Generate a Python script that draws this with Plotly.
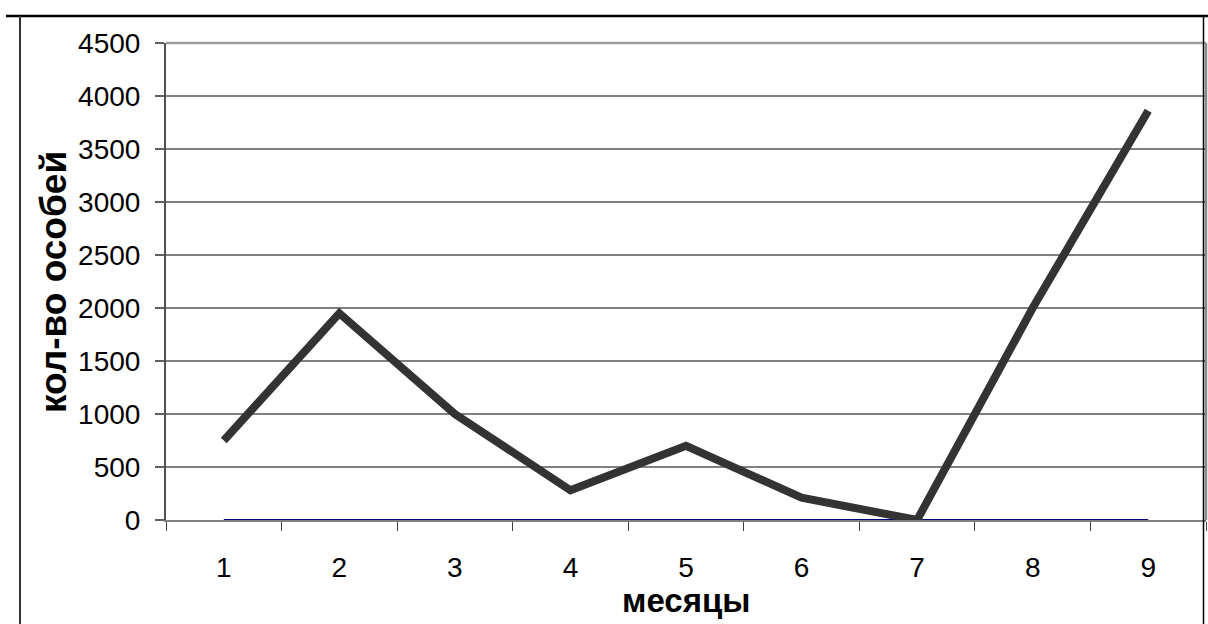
import plotly.graph_objects as go

months = [1, 2, 3, 4, 5, 6, 7, 8, 9]
individuals = [750, 1950, 1000, 280, 700, 210, 0, 2000, 3860]
baseline = [0, 0, 0, 0, 0, 0, 0, 0, 0]
y_ticks = [0, 500, 1000, 1500, 2000, 2500, 3000, 3500, 4000, 4500]

W, H = 1208, 624
L, R, T, B = 166, 2, 43, 104
pw, ph = W - L - R, H - T - B

def px_x(x):
    return (x - L) / pw

def px_y(y):
    return (H - B - y) / ph

fig = go.Figure()
fig.add_trace(go.Scatter(x=months, y=baseline, mode="lines",
                         line=dict(color="#000080", width=2), showlegend=False))
fig.add_trace(go.Scatter(x=months, y=individuals, mode="lines",
                         line=dict(color="#333333", width=8), showlegend=False))

font = "Liberation Sans, Arial, sans-serif"

fig.update_layout(
    width=W, height=H,
    margin=dict(l=L, r=R, t=T, b=B, autoexpand=False),
    paper_bgcolor="white", plot_bgcolor="white",
    font=dict(family=font, color="black", size=28),
    xaxis=dict(range=[0.5, 9.5], tickvals=months, ticktext=[str(m) for m in months],
               ticks="", showgrid=False, zeroline=False, layer="below traces",
               showline=True, linecolor="#808080", linewidth=1.5,
               minor=dict(ticks="outside", ticklen=9, tickcolor="#404040", tickwidth=1,
                          tick0=0.5, dtick=1, showgrid=False),
               tickfont=dict(size=28), ticklabelstandoff=22, automargin=False),
    yaxis=dict(range=[0, 4500], tickvals=y_ticks, ticks="outside", ticklen=9,
               tickcolor="#606060", tickwidth=1.5, layer="below traces",
               showgrid=True, gridcolor="#808080", gridwidth=1.5, zeroline=False,
               showline=True, linecolor="#505050", linewidth=2,
               tickfont=dict(size=28), ticklabelstandoff=9, automargin=False),
)

# plot area top & right border
fig.add_shape(type="line", xref="paper", yref="paper", x0=0, x1=1, y0=1, y1=1,
              line=dict(color="#9a9a9a", width=2.5), layer="below")
fig.add_shape(type="line", xref="paper", yref="paper", x0=1, x1=1, y0=0, y1=1,
              line=dict(color="#8a8a8a", width=2.5), layer="below")

# outer frame
fig.add_shape(type="line", xref="paper", yref="paper", x0=px_x(6), x1=px_x(1208),
              y0=px_y(16), y1=px_y(16), line=dict(color="black", width=2.5))
fig.add_shape(type="line", xref="paper", yref="paper", x0=px_x(20), x1=px_x(20),
              y0=px_y(16), y1=px_y(624), line=dict(color="#333333", width=2))
fig.add_shape(type="line", xref="paper", yref="paper", x0=px_x(1203.5), x1=px_x(1203.5),
              y0=px_y(16), y1=px_y(624), line=dict(color="black", width=1.5))

fig.add_annotation(text="<b>кол-во особей</b>", xref="paper", yref="paper",
                   x=px_x(53), y=px_y(282), textangle=-90, showarrow=False,
                   xanchor="center", yanchor="middle", font=dict(size=37, family=font))
fig.add_annotation(text="<b>месяцы</b>", xref="paper", yref="paper",
                   x=px_x(686), y=px_y(600), showarrow=False,
                   xanchor="center", yanchor="middle", font=dict(size=33, family=font))

fig.write_html("out.html", config={"displayModeBar": False},
               post_script="document.body.style.margin='0px';document.body.style.overflow='hidden';")
